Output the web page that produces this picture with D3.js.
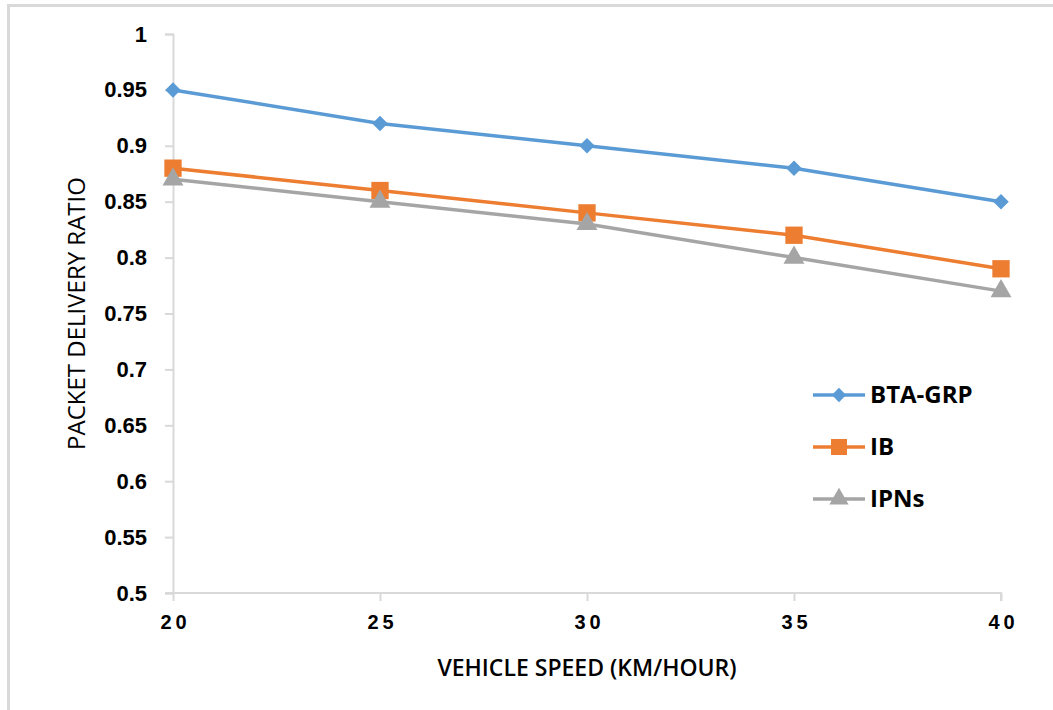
<!DOCTYPE html>
<html>
<head>
<meta charset="utf-8">
<script src="https://d3js.org/d3.v7.min.js"></script>
<style>
  body { margin: 0; background: #fff; }
  svg { display: block; font-family: "Open Sans", "Liberation Sans", sans-serif; }
</style>
</head>
<body>
<svg id="chart" width="1053" height="710"></svg>
<script>
// data
var speeds = [20, 25, 30, 35, 40];
var btaGrp = [0.95, 0.92, 0.90, 0.88, 0.85];
var ib = [0.88, 0.86, 0.84, 0.82, 0.79];
var ipns = [0.87, 0.85, 0.83, 0.80, 0.77];
var seriesNames = ["BTA-GRP", "IB", "IPNs"];
var yTicks = [0.5, 0.55, 0.6, 0.65, 0.7, 0.75, 0.8, 0.85, 0.9, 0.95, 1];

// square diamond = square turned 45deg
var series = [
  { name: seriesNames[0], values: btaGrp, color: "#5b9bd5", shape: d3.symbolSquare, size: 120, rot: 45 },
  { name: seriesNames[1], values: ib, color: "#ed7d31", shape: d3.symbolSquare, size: 300, rot: 0 },
  { name: seriesNames[2], values: ipns, color: "#a5a5a5", shape: d3.symbolTriangle, size: 190, rot: 0 }
];

var svg = d3.select("#chart");
var pLeft = 173, pRight = 1001, pTop = 34, pBottom = 593;

// outer frame
svg.append("rect")
  .attr("x", 8.5).attr("y", 5.5)
  .attr("width", 1060).attr("height", 720)
  .attr("fill", "none").attr("stroke", "#d9d9d9").attr("stroke-width", 3);

var x = d3.scaleLinear().domain([20, 40]).range([pLeft, pRight]);
var y = d3.scaleLinear().domain([0.5, 1]).range([pBottom, pTop]);

// y axis
var yAxis = svg.append("g")
  .attr("transform", "translate(" + pLeft + ",0)")
  .call(d3.axisLeft(y).tickValues(yTicks).tickSize(8).tickPadding(18)
    .tickFormat(function(d) { return String(+d.toFixed(2)); }));
yAxis.select(".domain").attr("stroke", "#d9d9d9").attr("stroke-width", 2);
yAxis.selectAll(".tick line").attr("stroke", "#d9d9d9").attr("stroke-width", 2);
yAxis.selectAll(".tick text")
  .attr("fill", "#000").style("font-size", "22px").style("font-weight", "600");

// x axis
var xAxis = svg.append("g")
  .attr("transform", "translate(0," + pBottom + ")")
  .call(d3.axisBottom(x).tickValues(speeds).tickSize(8).tickPadding(14));
xAxis.select(".domain").attr("stroke", "#d9d9d9").attr("stroke-width", 2)
  .attr("d", "M" + (pLeft - 8) + ",0H" + pRight + "V8");
xAxis.selectAll(".tick line").attr("stroke", "#d9d9d9").attr("stroke-width", 2);
xAxis.selectAll(".tick text")
  .attr("fill", "#000").style("font-size", "20px").style("font-weight", "bold")
  .style("letter-spacing", "4px").attr("dx", "2px");

// axis titles
svg.append("text")
  .attr("x", (pLeft + pRight) / 2).attr("y", 676)
  .attr("text-anchor", "middle")
  .style("font-size", "23px").style("font-weight", "600")
  .text("VEHICLE SPEED (KM/HOUR)");

svg.append("text")
  .attr("transform", "translate(85," + (pTop + pBottom) / 2 + ") rotate(-90)")
  .attr("text-anchor", "middle")
  .style("font-size", "24px")
  .text("PACKET DELIVERY RATIO");

// lines and markers
var line = d3.line()
  .x(function(d, i) { return x(speeds[i]); })
  .y(function(d) { return y(d); });

series.forEach(function(s) {
  svg.append("path")
    .datum(s.values)
    .attr("d", line)
    .attr("fill", "none")
    .attr("stroke", s.color)
    .attr("stroke-width", 3.5);
  svg.selectAll(null)
    .data(s.values)
    .enter().append("path")
    .attr("d", d3.symbol().type(s.shape).size(s.size))
    .attr("transform", function(d, i) {
      return "translate(" + x(speeds[i]) + "," + y(d) + ") rotate(" + s.rot + ")";
    })
    .attr("fill", s.color);
});

// legend
var legend = svg.append("g").selectAll("g")
  .data(series)
  .enter().append("g")
  .attr("transform", function(d, i) { return "translate(813," + (395 + i * 52) + ")"; });
legend.append("line")
  .attr("x1", 0).attr("x2", 52)
  .attr("stroke", function(d) { return d.color; })
  .attr("stroke-width", 3.5);
legend.append("path")
  .attr("d", function(d) { return d3.symbol().type(d.shape).size(d.size * 0.85)(); })
  .attr("transform", function(d) { return "translate(26,0) rotate(" + d.rot + ")"; })
  .attr("fill", function(d) { return d.color; });
legend.append("text")
  .attr("x", 57).attr("dy", "0.35em")
  .style("font-size", "24px").style("font-weight", "bold")
  .text(function(d) { return d.name; });
</script>
</body>
</html>
